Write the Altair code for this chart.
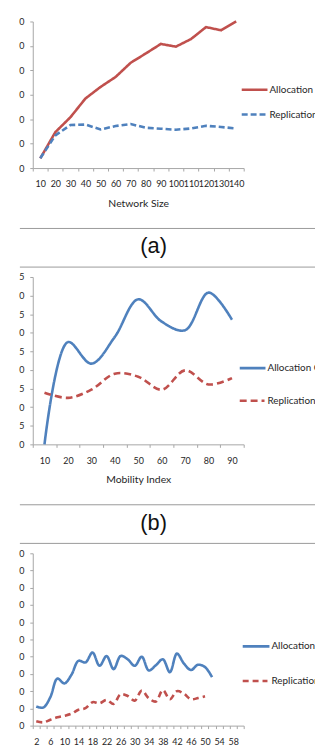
import altair as alt
import pandas as pd

FONT = "Lato"
RED = "#C0504D"
BLUE = "#4F81BD"
TXT = "#262626"
AXC = "#a6a6a6"

# ---- panel (a) ----
a_x = [10, 20, 30, 40, 50, 60, 70, 80, 90, 100, 110, 120, 130, 140]
a_alloc = [4.0, 14.7, 20.8, 28.5, 33.2, 37.3, 43.1, 46.9, 50.8, 49.7, 52.8, 57.7, 56.4, 60.0]
a_repl = [4.0, 13.4, 17.6, 17.8, 15.8, 17.2, 18.0, 16.5, 16.1, 15.7, 16.2, 17.3, 16.8, 16.2]

# ---- panel (b) ----
b_x = [10, 20, 30, 40, 50, 60, 70, 80, 90]
b_alloc = [0.0, 27.5, 21.7, 28.9, 39.0, 33.0, 30.7, 40.8, 33.5]
b_repl = [13.9, 12.5, 14.7, 19.0, 18.2, 14.7, 19.9, 16.1, 17.8]

# ---- panel (c) ----
c_x = list(range(2, 61, 2))
c_alloc_x = list(range(2, 53, 2))
c_alloc = [11.1, 10.5, 16.5, 27.3, 24.5, 29.5, 37.6, 36.7, 42.4, 34.7, 40.4, 32.8, 40.4,
           38.5, 34.7, 40.0, 32.0, 35.0, 38.5, 31.0, 41.8, 36.0, 32.3, 35.3, 34.0, 28.1]
c_repl_x = list(range(2, 51, 2))
c_repl = [2.5, 1.9, 3.4, 4.8, 5.7, 6.9, 9.2, 10.1, 13.6, 13.0, 14.9, 12.6, 18.2,
          17.2, 14.5, 20.3, 15.9, 14.0, 20.6, 15.3, 20.0, 18.5, 15.3, 16.0, 17.0]

NAME_A = "Allocation Cost"
NAME_R = "Replication Cost"
SOLID = [1, 0]
LW = 2.6
FULLW = 285   # whole panel width incl. legend area (clipped at page edge)
PLOTW = 213   # width of the x axis


def panel(cats, series, ymax, ystep, xtitle, H, interp, legend_pos,
          xlabel_expr=None, caption=None, caption_x=122):
    rows = []
    for name, xs, ys, color, dash in series:
        for xv, yv in zip(xs, ys):
            rows.append({"x": xv, "value": yv, "series": name})
    df = pd.DataFrame(rows)
    names = [s[0] for s in series]
    axis_kw = dict(tickBand="extent", labelAngle=0, labelOverlap=False, labelFlush=False)
    axis_kw["title"] = xtitle if xtitle else None
    if xlabel_expr:
        axis_kw["labelExpr"] = xlabel_expr
    lines = alt.Chart(df).mark_line(interpolate=interp, strokeWidth=LW).encode(
        x=alt.X("x:O", scale=alt.Scale(type="band", domain=cats, paddingInner=0, paddingOuter=0,
                                       range=[0, PLOTW]),
                bandPosition=0.5, axis=alt.Axis(**axis_kw)),
        y=alt.Y("value:Q", scale=alt.Scale(domain=[0, ymax], nice=False),
                axis=alt.Axis(values=list(range(0, ymax + 1, ystep)),
                              labelExpr="slice(datum.label, -1)", title=None, grid=False)),
        color=alt.Color("series:N", scale=alt.Scale(domain=names, range=[s[3] for s in series]), legend=None),
        strokeDash=alt.StrokeDash("series:N", scale=alt.Scale(domain=names, range=[s[4] for s in series]),
                                  legend=None),
    )
    layers = [lines]
    for (name, xs, ys, color, dash), (x0, x1, ly, tx) in zip(series, legend_pos):
        ldf = pd.DataFrame({"label": [name]})
        layers.append(alt.Chart(ldf).mark_rule(color=color, strokeWidth=LW, strokeDash=dash).encode(
            x=alt.value(x0), x2=alt.value(x1), y=alt.value(ly)))
        layers.append(alt.Chart(ldf).mark_text(align="left", baseline="middle", font=FONT, fontSize=10,
                                               color=TXT, clip=True).encode(
            x=alt.value(tx), y=alt.value(ly), text="label:N"))
    if caption:
        cdf = pd.DataFrame({"label": [caption]})
        layers.append(alt.Chart(cdf).mark_rule(color="#9a9a9a", strokeWidth=1).encode(
            x=alt.value(-13), x2=alt.value(FULLW), y=alt.value(H + 61)))
        layers.append(alt.Chart(cdf).mark_text(align="center", baseline="middle", font="Liberation Sans",
                                               fontSize=22, color="#111").encode(
            x=alt.value(caption_x), y=alt.value(H + 79), text="label:N"))
        layers.append(alt.Chart(cdf).mark_rule(color="#9a9a9a", strokeWidth=1).encode(
            x=alt.value(-13), x2=alt.value(FULLW), y=alt.value(H + 100)))
    return alt.layer(*layers).properties(width=FULLW, height=H)


pa = panel(a_x,
           [(NAME_A, a_x, a_alloc, RED, SOLID), (NAME_R, a_x, a_repl, BLUE, [6, 3])],
           60, 10, "Network Size", 148, "linear",
           [(211, 237, 69, 239), (211, 235, 94, 239)],
           caption="(a)")

pb = panel(b_x,
           [(NAME_A, b_x, b_alloc, BLUE, SOLID), (NAME_R, b_x, b_repl, RED, [7, 4])],
           45, 5, "Mobility Index", 169, "catmull-rom",
           [(209, 235, 92, 237), (209, 234, 125, 237)],
           caption="(b)")

pc = panel(c_x,
           [(NAME_A, c_alloc_x, c_alloc, BLUE, SOLID), (NAME_R, c_repl_x, c_repl, RED, [6, 4])],
           100, 10, None, 174, "catmull-rom",
           [(212, 239, 94, 241), (212, 237, 129, 241)],
           xlabel_expr="(datum.value - 2) % 4 == 0 ? datum.label : ''")

chart = alt.vconcat(pa, pb, pc, spacing=5).resolve_scale(
    color="independent", strokeDash="independent"
).properties(
    padding={"left": 10, "top": 4, "right": 0, "bottom": 0},
    background="white",
).configure_view(stroke=None).configure_axis(
    domainColor=AXC, tickColor=AXC, tickSize=3, labelFont=FONT, labelFontSize=9,
    labelColor=TXT, titleFont=FONT, titleFontSize=10.5, titleFontWeight="normal", titleColor=TXT,
).configure_axisX(labelPadding=9, titlePadding=10).configure_axisY(labelPadding=6)

chart.save("out.html", embed_options={"renderer": "svg", "actions": False})
